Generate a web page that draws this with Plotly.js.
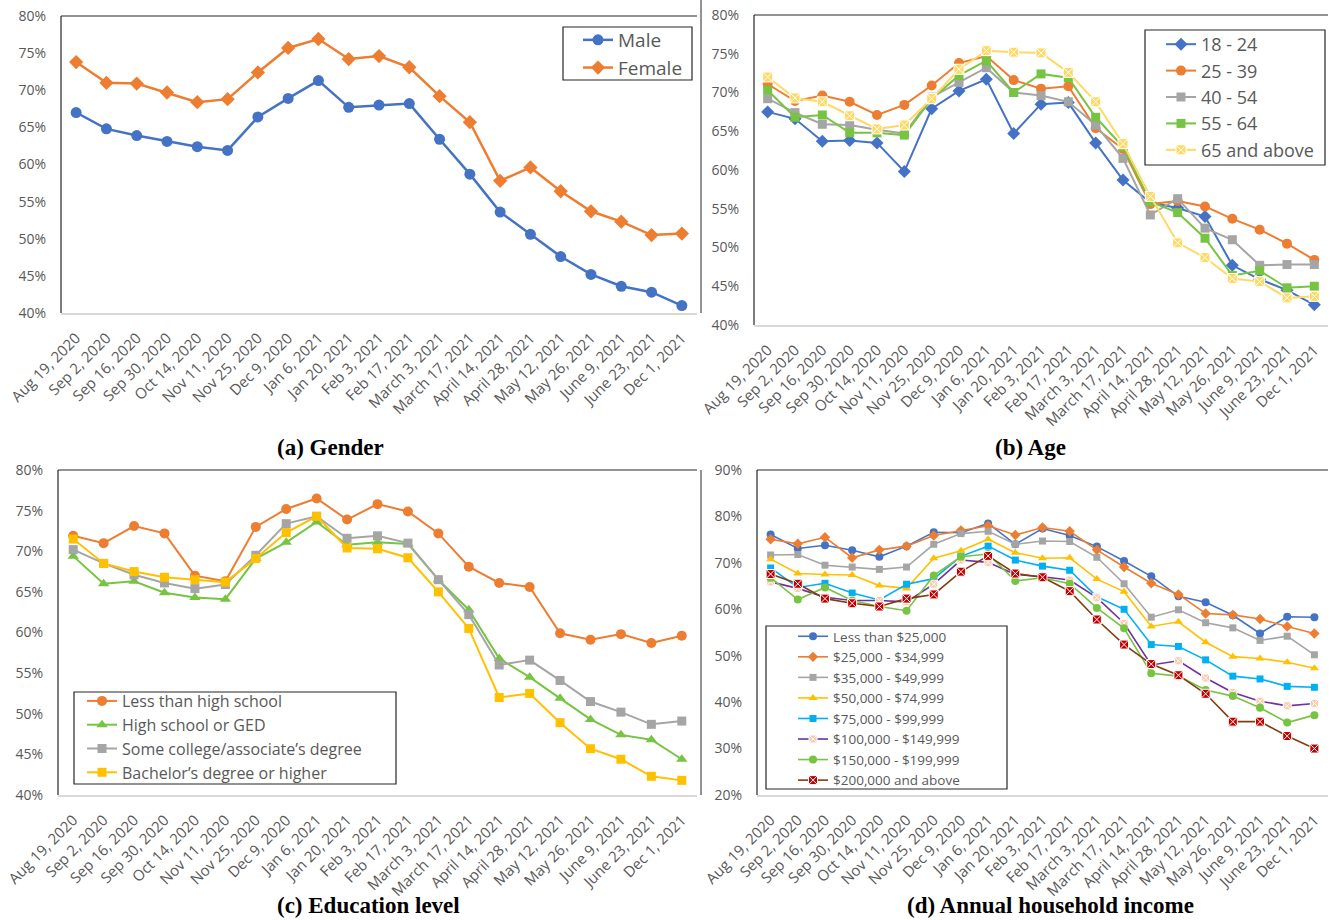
<!DOCTYPE html>
<html>
<head>
<meta charset="utf-8">
<script src="https://cdn.plot.ly/plotly-3.0.1.min.js"></script>
<style>html,body{margin:0;padding:0;background:#fff;}#chart{width:1330px;height:920px;}</style>
</head>
<body>
<div id="chart"></div>
<script>
// ---------- data ----------
const dates = ["Aug 19, 2020","Sep 2, 2020","Sep 16, 2020","Sep 30, 2020","Oct 14, 2020","Nov 11, 2020","Nov 25, 2020","Dec 9, 2020","Jan 6, 2021","Jan 20, 2021","Feb 3, 2021","Feb 17, 2021","March 3, 2021","March 17, 2021","April 14, 2021","April 28, 2021","May 12, 2021","May 26, 2021","June 9, 2021","June 23, 2021","Dec 1, 2021"];

// (a) Gender
const genderNames = ["Male","Female"];
const male   = [67.0,64.8,63.9,63.1,62.4,61.9,66.4,68.9,71.3,67.7,68.0,68.2,63.4,58.7,53.6,50.6,47.6,45.2,43.6,42.8,41.0];
const female = [73.8,71.0,70.9,69.7,68.4,68.8,72.4,75.7,76.9,74.2,74.6,73.1,69.2,65.7,57.8,59.6,56.4,53.7,52.3,50.5,50.7];

// (b) Age
const ageNames = ["18 - 24","25 - 39","40 - 54","55 - 64","65 and above"];
const age18 = [67.5,66.6,63.7,63.8,63.5,59.8,67.9,70.2,71.7,64.7,68.5,68.7,63.5,58.7,55.8,55.1,54.0,47.7,45.9,44.5,42.6];
const age25 = [71.1,68.9,69.6,68.8,67.1,68.4,70.9,73.8,74.7,71.6,70.5,70.8,65.4,62.7,55.6,56.0,55.3,53.7,52.3,50.5,48.4];
const age40 = [69.2,67.4,65.9,65.8,65.2,64.7,69.4,71.3,73.2,70.0,69.6,68.8,65.8,61.5,54.2,56.3,52.5,51.0,47.7,47.8,47.8];
const age55 = [70.3,66.8,67.1,64.8,64.8,64.5,69.2,72.2,74.1,70.0,72.4,71.9,66.8,63.0,55.9,54.5,51.2,46.4,47.0,44.8,45.0];
const age65 = [72.0,69.3,68.8,67.0,65.3,65.8,69.2,73.0,75.4,75.2,75.1,72.6,68.8,63.4,56.6,50.6,48.7,46.0,45.6,43.5,43.7];

// (c) Education level
const eduNames = ["Less than high school","High school or GED","Some college/associate\u2019s degree","Bachelor\u2019s degree or higher"];
const eduLess = [71.9,71.0,73.1,72.2,67.0,66.3,73.0,75.2,76.5,73.9,75.8,74.9,72.2,68.1,66.1,65.6,59.9,59.1,59.8,58.7,59.6];
const eduHS   = [69.4,66.0,66.3,64.9,64.3,64.1,69.1,71.1,73.6,70.8,71.1,70.9,66.5,62.8,56.8,54.5,51.9,49.3,47.4,46.8,44.4];
const eduSome = [70.2,68.5,67.1,66.1,65.4,65.9,69.5,73.4,74.3,71.6,71.9,71.0,66.5,62.2,56.0,56.6,54.1,51.5,50.2,48.7,49.1];
const eduBach = [71.5,68.5,67.5,66.8,66.5,66.2,69.1,72.3,74.3,70.4,70.3,69.2,65.0,60.5,52.0,52.5,48.9,45.7,44.4,42.3,41.8];

// (d) Annual household income
const incNames = ["Less than $25,000","$25,000 - $34,999","$35,000 - $49,999","$50,000 - $74,999","$75,000 - $99,999","$100,000 - $149,999","$150,000 - $199,999","$200,000 and above"];
const inc1 = [76.1,73.1,73.8,72.7,71.3,73.6,76.6,76.5,78.5,74.0,77.4,75.9,73.5,70.4,67.1,62.8,61.5,58.7,54.8,58.4,58.3];
const inc2 = [75.1,74.1,75.5,71.1,72.8,73.6,75.9,77.0,78.0,76.0,77.6,76.8,72.8,69.1,65.6,63.2,59.1,58.8,57.9,56.3,54.8];
const inc3 = [71.7,71.8,69.5,69.1,68.6,69.1,74.0,76.3,76.8,74.0,74.7,74.6,71.2,65.5,58.3,59.9,57.1,56.0,53.3,54.2,50.2];
const inc4 = [70.8,67.7,67.5,67.4,65.1,64.5,71.0,72.6,75.1,72.2,71.0,71.1,66.5,63.8,56.3,57.3,52.9,49.8,49.4,48.6,47.3];
const inc5 = [68.9,64.7,65.6,63.5,62.0,65.4,66.6,71.4,73.6,70.6,69.3,68.4,62.7,60.0,52.4,52.0,49.1,45.6,45.0,43.4,43.2];
const inc6 = [65.9,64.5,62.6,61.9,61.9,61.6,65.4,70.6,70.1,67.5,67.0,66.3,62.5,57.0,48.0,48.9,45.2,42.1,40.2,39.2,39.7];
const inc7 = [66.8,62.1,64.7,61.9,60.6,59.7,67.3,71.3,71.9,66.1,66.8,65.5,60.3,55.9,46.2,45.6,42.6,41.3,38.8,35.6,37.2];
const inc8 = [67.6,65.5,62.3,61.3,60.6,62.3,63.2,68.1,71.5,67.7,66.9,63.9,57.8,52.4,48.2,45.8,41.8,35.8,35.8,32.7,30.0];

const panelCaptions = ["(a) Gender","(b) Age","(c) Education level","(d) Annual household income"];

// ---------- styling ----------
const W = 1330, H = 920;
const FONT = "'Open Sans', 'Liberation Sans', sans-serif";
const TICKC = "#595959";
const px = v => v / W;
const py = v => 1 - v / H;

// panel frames in pixels: [left, right, top, bottom]
const frames = [
  [61, 697, 16, 313],
  [754, 1328, 15, 325],
  [58, 697, 470, 795],
  [757, 1328, 470, 795]
];
// legend boxes in pixels: [left, right, top, bottom]
const legBoxes = [
  [563, 692, 27, 80],
  [1145, 1325, 30, 165],
  [74, 396, 692, 784],
  [766, 1007, 626, 789]
];

function mk(name, y, xa, ya, leg, color, symbol, msize, lw, opts) {
  opts = opts || {};
  return {
    type: "scatter", mode: "lines+markers", name: name,
    x: dates, y: y, xaxis: xa, yaxis: ya, legend: leg,
    line: {color: opts.lineColor || color, width: lw},
    marker: {color: color, symbol: symbol, size: msize,
             line: {color: opts.mlc || color, width: opts.mlw || 0}},
    cliponaxis: false
  };
}

const traces = [
  mk(genderNames[0], male,   "x",  "y",  "legend",  "#4472C4", "circle",  11, 2.5),
  mk(genderNames[1], female, "x",  "y",  "legend",  "#ED7D31", "diamond", 11, 2.5),

  mk(ageNames[0], age18, "x2", "y2", "legend2", "#4472C4", "diamond",  10, 2),
  mk(ageNames[1], age25, "x2", "y2", "legend2", "#ED7D31", "circle",   10, 2),
  mk(ageNames[2], age40, "x2", "y2", "legend2", "#A5A5A5", "square",   9, 2),
  mk(ageNames[3], age55, "x2", "y2", "legend2", "#76C442", "square",   9, 2),
  mk(ageNames[4], age65, "x2", "y2", "legend2", "#FFD966", "square-x", 10, 2, {mlc: "#FFFFFF", mlw: 1}),

  mk(eduNames[0], eduLess, "x3", "y3", "legend3", "#ED7D31", "circle",      10, 2),
  mk(eduNames[1], eduHS,   "x3", "y3", "legend3", "#76C442", "triangle-up", 10, 2),
  mk(eduNames[2], eduSome, "x3", "y3", "legend3", "#A5A5A5", "square",      9, 2),
  mk(eduNames[3], eduBach, "x3", "y3", "legend3", "#FFC000", "square",      9, 2),

  mk(incNames[0], inc1, "x4", "y4", "legend4", "#4472C4", "circle",      8, 1.6),
  mk(incNames[1], inc2, "x4", "y4", "legend4", "#ED7D31", "diamond",     8, 1.6),
  mk(incNames[2], inc3, "x4", "y4", "legend4", "#A5A5A5", "square",      7, 1.6),
  mk(incNames[3], inc4, "x4", "y4", "legend4", "#FFC000", "triangle-up", 8, 1.6),
  mk(incNames[4], inc5, "x4", "y4", "legend4", "#00B0F0", "square",      7, 1.6),
  mk(incNames[5], inc6, "x4", "y4", "legend4", "#F8CBAD", "square-x",    8, 1.6, {lineColor: "#7030A0", mlc: "#FFFFFF", mlw: 1}),
  mk(incNames[6], inc7, "x4", "y4", "legend4", "#76C442", "circle",      8, 1.6),
  mk(incNames[7], inc8, "x4", "y4", "legend4", "#C00000", "square-x",    9, 1.6, {lineColor: "#843C0C", mlc: "#FFFFFF", mlw: 1})
];

function xax(i) {
  const f = frames[i];
  return {
    type: "category", domain: [px(f[0]), px(f[1])], anchor: i === 0 ? "y" : "y" + (i + 1),
    range: [-0.5, dates.length - 0.5],
    tickangle: -45, tickfont: {family: FONT, size: 15, color: TICKC},
    showgrid: false, zeroline: false, showline: true, linecolor: "#D9D9D9", linewidth: 1.5,
    ticks: "", ticklabelstandoff: 9, fixedrange: true
  };
}
function yax(i, lo, hi, dt) {
  const f = frames[i];
  return {
    domain: [py(f[3]), py(f[2])], anchor: i === 0 ? "x" : "x" + (i + 1),
    range: [lo, hi], dtick: dt, ticksuffix: "%",
    tickfont: {family: FONT, size: 14, color: TICKC},
    showgrid: false, zeroline: false, showline: false,
    ticks: "", ticklabelstandoff: 14, fixedrange: true
  };
}

const shapes = [];
frames.forEach(f => {
  shapes.push({type: "line", xref: "paper", yref: "paper", x0: px(f[0]), x1: px(f[1]), y0: py(f[2]), y1: py(f[2]), line: {color: "#262626", width: 1.2}});
  shapes.push({type: "line", xref: "paper", yref: "paper", x0: px(f[0]), x1: px(f[0]), y0: py(f[2]), y1: py(f[3]), line: {color: "#262626", width: 1.2}});
});
shapes.push({type: "line", xref: "paper", yref: "paper", x0: px(701), x1: px(701), y0: py(0), y1: py(313), line: {color: "#262626", width: 1}});
shapes.push({type: "line", xref: "paper", yref: "paper", x0: px(701), x1: px(701), y0: py(470), y1: py(795), line: {color: "#262626", width: 1}});
legBoxes.forEach(b => {
  shapes.push({type: "rect", xref: "paper", yref: "paper", layer: "above",
    x0: px(b[0]), x1: px(b[1]), y0: py(b[3]), y1: py(b[2]),
    fillcolor: "#FFFFFF", line: {color: "#262626", width: 1.2}});
});

function leg(x, y, size) {
  return {
    x: px(x), y: py(y), xanchor: "left", yanchor: "top",
    bgcolor: "rgba(0,0,0,0)", borderwidth: 0,
    font: {family: FONT, size: size, color: TICKC},
    tracegroupgap: 0, itemclick: false, itemdoubleclick: false
  };
}

const capFont = {family: "'Liberation Serif', 'Times New Roman', serif", size: 23, color: "#000"};
const annotations = [
  {text: "<b>" + panelCaptions[0] + "</b>", x: px(330), y: py(447), xref: "paper", yref: "paper", showarrow: false, font: capFont, xanchor: "center", yanchor: "middle"},
  {text: "<b>" + panelCaptions[1] + "</b>", x: px(1030), y: py(447), xref: "paper", yref: "paper", showarrow: false, font: capFont, xanchor: "center", yanchor: "middle"},
  {text: "<b>" + panelCaptions[2] + "</b>", x: px(368), y: py(905), xref: "paper", yref: "paper", showarrow: false, font: capFont, xanchor: "center", yanchor: "middle"},
  {text: "<b>" + panelCaptions[3] + "</b>", x: px(1050), y: py(905), xref: "paper", yref: "paper", showarrow: false, font: capFont, xanchor: "center", yanchor: "middle"}
];

const layout = {
  width: W, height: H, margin: {l: 0, r: 0, t: 0, b: 0},
  paper_bgcolor: "#FFFFFF", plot_bgcolor: "#FFFFFF",
  showlegend: true,
  xaxis: xax(0), yaxis: yax(0, 40, 80, 5),
  xaxis2: xax(1), yaxis2: yax(1, 40, 80, 5),
  xaxis3: xax(2), yaxis3: yax(2, 40, 80, 5),
  xaxis4: xax(3), yaxis4: yax(3, 20, 90, 10),
  legend: leg(578, 21, 19),
  legend2: leg(1161, 26, 18),
  legend3: leg(82, 684, 16),
  legend4: leg(793, 621, 13.5),
  shapes: shapes, annotations: annotations
};

Plotly.newPlot("chart", traces, layout, {displayModeBar: false, staticPlot: true});
</script>
</body>
</html>
